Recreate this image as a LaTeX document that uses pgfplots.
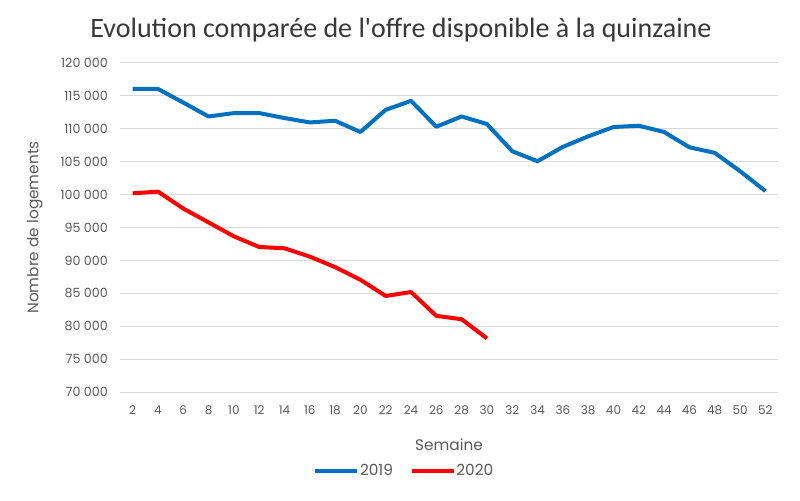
\documentclass[border=0pt]{standalone}
\usepackage{pgfplots}
\pgfplotsset{compat=1.18}
\usepackage{fontspec}
\setmainfont{Poppins}
\newfontfamily\titlefont{Carlito}
\definecolor{c2019}{HTML}{0070C0}
\definecolor{c2020}{HTML}{FF0000}
\definecolor{gridc}{HTML}{D9D9D9}
\definecolor{txt}{HTML}{595959}
\begin{document}
\begin{tikzpicture}
\path[use as bounding box] (-90pt,-81pt) rectangle (510pt,294pt);
\begin{axis}[
  at={(0,0)}, anchor=origin,
  scale only axis,
  width=493.5pt, height=246.75pt,
  xmin=1, xmax=53,
  ymin=70000, ymax=120000,
  xtick={2,4,...,52},
  ytick={70000,75000,...,120000},
  scaled y ticks=false,
  ymajorgrids,
  grid style={gridc, line width=0.75pt},
  axis line style={draw=none},
  major tick style={draw=none},
  /pgf/number format/assume math mode=true,
  yticklabel={\pgfmathprintnumber[fixed, precision=0, 1000 sep={\ }]{\tick}},
  ticklabel style={text=txt},
  yticklabel style={font=\fontsize{9.5}{11}\selectfont, anchor=east, inner sep=0pt, xshift=-9pt},
  xticklabel style={font=\fontsize{9}{11}\selectfont, anchor=center, inner sep=0pt, yshift=-13.5pt},
  xlabel={Semaine},
  xlabel style={font=\fontsize{11.5}{13}\selectfont, text=txt, at={(axis description cs:0.5,0)}, anchor=center, yshift=-39.5pt},
  ylabel={Nombre de logements},
  ylabel style={font=\fontsize{11.5}{13}\selectfont, text=txt, at={(axis description cs:0,0.5)}, anchor=center, yshift=64pt},
  title={Evolution comparée de l'offre disponible à la quinzaine},
  title style={font=\titlefont\fontsize{21}{24}\selectfont, text=black!78, at={(axis description cs:0.5,1)}, anchor=center, yshift=19pt, xshift=-36pt},
  legend style={at={(axis description cs:0.5,0)}, anchor=center, yshift=-59pt, xshift=-34pt, draw=none, font=\fontsize{11.5}{13}\selectfont, text=txt, legend columns=2, inner sep=0pt,
    nodes={inner xsep=0.5pt, inner ysep=1pt},
    /tikz/every even column/.append style={column sep=12pt}},
  legend image code/.code={\draw[#1, line width=3pt] (0pt,0pt) -- (31.5pt,0pt);},
]
\addplot[c2019, line width=3pt, line join=round] coordinates {
(2,116057) (4,116057) (6,113988) (8,111873) (10,112387) (12,112387)
(14,111631) (16,110967) (18,111223) (20,109516) (22,112885) (24,114245)
(26,110317) (28,111873) (30,110725) (32,106586) (34,105075) (36,107250)
(38,108852) (40,110271) (42,110468) (44,109516) (46,107190) (48,106344)
(50,103564) (52,100543)};
\addlegendentry{2019}
\addplot[c2020, line width=3pt, line join=round] coordinates {
(2,100196) (4,100453) (6,97885) (8,95770) (10,93655) (12,92039)
(14,91842) (16,90573) (18,88972) (20,87054) (22,84592) (24,85196)
(26,81571) (28,81057) (30,78142)};
\addlegendentry{2020}
\end{axis}
\end{tikzpicture}
\end{document}
